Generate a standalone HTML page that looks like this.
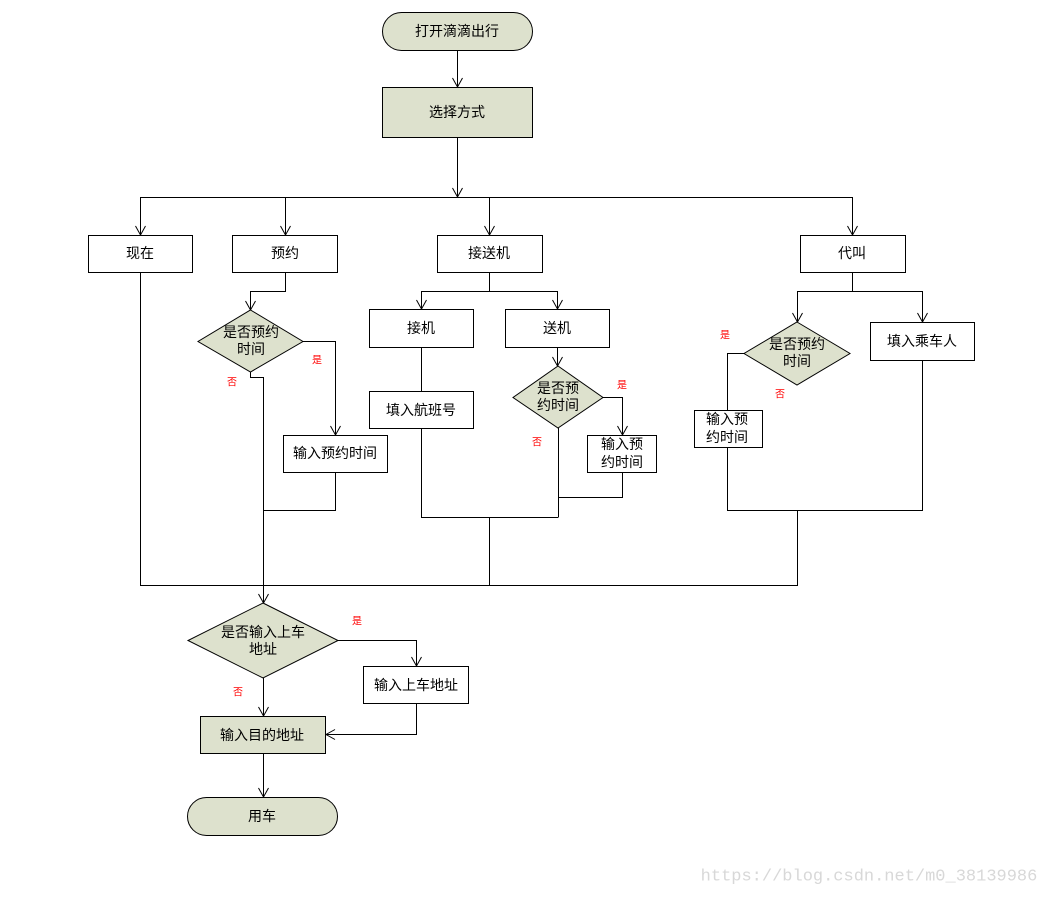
<!DOCTYPE html>
<html><head><meta charset="utf-8"><style>
html,body{margin:0;padding:0;background:#fff;}
svg{display:block;}
text{font-family:"Liberation Sans","Noto Sans CJK SC",sans-serif;font-size:14px;fill:#000;text-anchor:middle;dominant-baseline:central;}
.r{fill:#f00;font-size:10px;}
.f{fill:#dde1cd;stroke:#000;stroke-width:1;}
.w{fill:#fff;stroke:#000;stroke-width:1;}
.l{fill:none;stroke:#000;stroke-width:1;}
</style></head><body>
<svg width="1045" height="897" viewBox="0 0 1045 897">
<defs><marker id="a" markerWidth="12" markerHeight="12" refX="10" refY="6" orient="auto" markerUnits="userSpaceOnUse"><path d="M1,1 L10,6 L1,11" fill="none" stroke="#000" stroke-width="1"/></marker></defs>
<g class="l" shape-rendering="crispEdges">
<path d="M457.5 50 V87" marker-end="url(#a)"/>
<path d="M457.5 137 V197" marker-end="url(#a)"/>
<path d="M140.5 197.5 H852.5"/>
<path d="M140.5 197 V235" marker-end="url(#a)"/>
<path d="M285.5 197 V235" marker-end="url(#a)"/>
<path d="M489.5 197 V235" marker-end="url(#a)"/>
<path d="M852.5 197 V235" marker-end="url(#a)"/>
<path d="M140.5 272 V585.5 H797.5 V510"/>
<path d="M285.5 272 V291.5 H250.5 V310" marker-end="url(#a)"/>
<path d="M303 341.5 H335.5 V435" marker-end="url(#a)"/>
<path d="M250.5 372 V377.5 H263.5 V603" marker-end="url(#a)"/>
<path d="M335.5 472 V510.5 H263.5"/>
<path d="M489.5 272 V291.5"/>
<path d="M421.5 291.5 H557.5"/>
<path d="M421.5 291 V309" marker-end="url(#a)"/>
<path d="M557.5 291 V309" marker-end="url(#a)"/>
<path d="M421.5 347 V517.5 H558.5"/>
<path d="M489.5 517 V585"/>
<path d="M557.5 347 V366" marker-end="url(#a)"/>
<path d="M603 397.5 H622.5 V435" marker-end="url(#a)"/>
<path d="M622.5 472 V497.5 H558.5"/>
<path d="M558.5 428 V517"/>
<path d="M852.5 272 V291.5 H797.5 V322" marker-end="url(#a)"/>
<path d="M852.5 291.5 H922.5 V322" marker-end="url(#a)"/>
<path d="M744 353.5 H727.5 V510.5 H922.5 V360"/>
<path d="M338 640.5 H416.5 V666" marker-end="url(#a)"/>
<path d="M416.5 703 V734.5 H326" marker-end="url(#a)"/>
<path d="M263.5 678 V716" marker-end="url(#a)"/>
<path d="M263.5 753 V797" marker-end="url(#a)"/>
</g>
<rect class="f" x="382.5" y="12.5" width="150" height="38" rx="19"/>
<text x="457" y="31">打开滴滴出行</text>
<rect class="f" x="382.5" y="87.5" width="150" height="50"/>
<text x="457" y="112">选择方式</text>
<rect class="w" x="88.5" y="235.5" width="104" height="37"/><text x="140" y="253">现在</text>
<rect class="w" x="232.5" y="235.5" width="105" height="37"/><text x="285" y="253">预约</text>
<rect class="w" x="437.5" y="235.5" width="105" height="37"/><text x="489" y="253">接送机</text>
<rect class="w" x="800.5" y="235.5" width="105" height="37"/><text x="852" y="253">代叫</text>
<polygon class="f" points="250.5,310 303,341.5 250.5,372 198,341.5"/>
<text x="251" y="332">是否预约</text><text x="251" y="349">时间</text>
<rect class="w" x="283.5" y="435.5" width="104" height="37"/><text x="335" y="453">输入预约时间</text>
<rect class="w" x="369.5" y="309.5" width="104" height="38"/><text x="421" y="328">接机</text>
<rect class="w" x="505.5" y="309.5" width="104" height="38"/><text x="557" y="328">送机</text>
<rect class="w" x="369.5" y="391.5" width="104" height="37"/><text x="421" y="410">填入航班号</text>
<polygon class="f" points="558,366 603,397.5 558,428 513,397.5"/>
<text x="558" y="388">是否预</text><text x="558" y="405">约时间</text>
<rect class="w" x="587.5" y="435.5" width="69" height="37"/><text x="622" y="444">输入预</text><text x="622" y="462">约时间</text>
<polygon class="f" points="797,322 850,353.5 797,385 744,353.5"/>
<text x="797" y="344">是否预约</text><text x="797" y="361">时间</text>
<rect class="w" x="870.5" y="322.5" width="104" height="38"/><text x="922" y="341">填入乘车人</text>
<rect class="w" x="694.5" y="410.5" width="68" height="37"/><text x="727" y="419">输入预</text><text x="727" y="437">约时间</text>
<polygon class="f" points="263,603 338,640.5 263,678 188,640.5"/>
<text x="263" y="632">是否输入上车</text><text x="263" y="649">地址</text>
<rect class="w" x="363.5" y="666.5" width="105" height="37"/><text x="416" y="685">输入上车地址</text>
<rect class="f" x="200.5" y="716.5" width="125" height="37"/><text x="262" y="735">输入目的地址</text>
<rect class="f" x="187.5" y="797.5" width="150" height="38" rx="19"/><text x="262" y="816">用车</text>
<text class="r" x="317" y="361">是</text><text class="r" x="232" y="383">否</text>
<text class="r" x="622" y="386">是</text><text class="r" x="537" y="443">否</text>
<text class="r" x="725" y="336">是</text><text class="r" x="780" y="395">否</text>
<text class="r" x="357" y="622">是</text><text class="r" x="238" y="693">否</text>
<text x="869" y="877" style="font-family:'Liberation Mono',monospace;font-size:17px;fill:#d8d8d8;">https://blog.csdn.net/m0_38139986</text>
</svg>
</body></html>
